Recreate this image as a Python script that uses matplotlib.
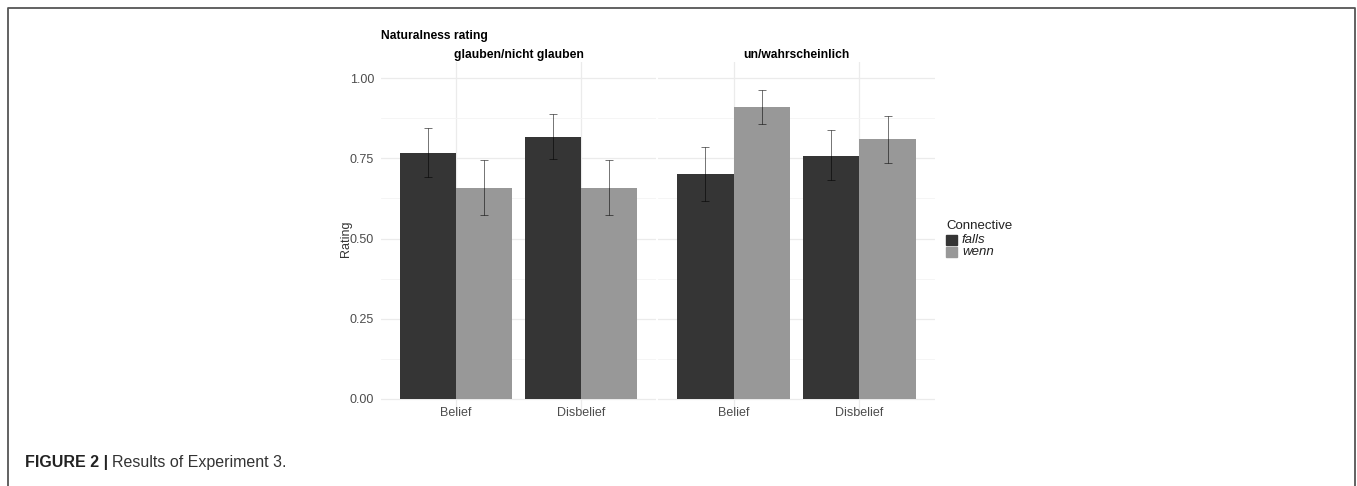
import matplotlib

matplotlib.use("Agg")
import matplotlib.pyplot as plt
import numpy as np

plt.rcParams["font.family"] = ["Liberation Sans", "DejaVu Sans"]

# values
PANELS = ["glauben/nicht glauben", "un/wahrscheinlich"]
CONDITIONS = ["Belief", "Disbelief"]
CONNECTIVES = ["falls", "wenn"]

falls_mean = [[0.767, 0.817], [0.700, 0.758]]
falls_lo = [[0.692, 0.747], [0.618, 0.681]]
falls_hi = [[0.843, 0.887], [0.784, 0.838]]
wenn_mean = [[0.658, 0.658], [0.910, 0.810]]
wenn_lo = [[0.572, 0.572], [0.857, 0.736]]
wenn_hi = [[0.745, 0.745], [0.962, 0.881]]

Y_TICKS = [0.00, 0.25, 0.50, 0.75, 1.00]

DARK = "#353535"
LIGHT = "#989898"
GRID = "#ebebeb"
TICK = "#4d4d4d"

W, H = 1357, 486
fig = plt.figure(figsize=(W / 100, H / 100), dpi=100)


def px(x0, y0, w, h):
    return [x0 / W, 1 - (y0 + h) / H, w / W, h / H]


axes = [fig.add_axes(px(381, 62, 275, 353)), fig.add_axes(px(658, 62, 277, 353))]
series = [(falls_mean, falls_lo, falls_hi, DARK, -0.225),
          (wenn_mean, wenn_lo, wenn_hi, LIGHT, 0.225)]

xs = np.arange(1, len(CONDITIONS) + 1)
for p, ax in enumerate(axes):
    for mean, lo, hi, col, off in series:
        m = np.array(mean[p])
        err = np.vstack([m - np.array(lo[p]), np.array(hi[p]) - m])
        ax.bar(xs + off, m, width=0.45, color=col, zorder=2)
        ax.errorbar(xs + off, m, yerr=err, fmt="none", ecolor=(0, 0, 0, 0.55),
                    elinewidth=0.7, capsize=3.2, capthick=0.7, zorder=3)
    ax.set_xlim(0.4, 2.6)
    ax.set_ylim(-0.05, 1.05)
    ax.set_xticks(xs)
    ax.set_xticklabels(CONDITIONS)
    ax.set_yticks(Y_TICKS)
    ax.set_yticks([0.125, 0.375, 0.625, 0.875], minor=True)
    ax.set_xticks([], minor=True)
    ax.grid(True, which="major", color=GRID, linewidth=0.9, zorder=0)
    ax.grid(True, which="minor", axis="y", color="#f4f4f4", linewidth=0.6, zorder=0)
    ax.set_axisbelow(True)
    for s in ax.spines.values():
        s.set_visible(False)
    ax.tick_params(which="both", length=0, labelsize=9, labelcolor=TICK, pad=5)
    ax.tick_params(axis="x", pad=-6)
    ax.set_title(PANELS[p], fontsize=8.7, fontweight="bold", pad=3)
    if p == 0:
        ax.set_yticklabels([f"{v:.2f}" for v in Y_TICKS])
        ax.set_ylabel("Rating", fontsize=9, color="#333333", labelpad=-2)
    else:
        ax.set_yticklabels([])

fig.text(381 / W, 1 - 35.5 / H, "Naturalness rating", fontsize=8.7, fontweight="bold",
         ha="left", va="center")

# legend
fig.text(946 / W, 1 - 226 / H, "Connective", fontsize=9.5, color="#222222", va="center")
for i, (name, col) in enumerate(zip(CONNECTIVES, [DARK, LIGHT])):
    y = 235 + i * 12
    fig.patches.append(plt.Rectangle((946 / W, 1 - (y + 10) / H), 11 / W, 10 / H,
                                     transform=fig.transFigure, color=col))
    fig.text(962 / W, 1 - (y + 5) / H, name, fontsize=9.5, style="italic",
             color="#222222", va="center")

# caption
cap = fig.text(25 / W, 1 - 462 / H, "FIGURE 2 |", fontsize=11.5, fontweight="bold",
               ha="left", va="center", color="#222222")
fig.canvas.draw()
bb = cap.get_window_extent()
fig.text((bb.x1 + 4) / W, 1 - 462 / H, "Results of Experiment 3.", fontsize=11.5,
         ha="left", va="center", color="#333333")

# page frame
frame_x = [8 / W, 8 / W, 1355 / W, 1355 / W]
frame_y = [0, 1 - 8.5 / H, 1 - 8.5 / H, 0]
fig.lines.append(plt.Line2D(frame_x, frame_y, transform=fig.transFigure,
                            color="#555555", linewidth=1.3))

fig.savefig("out.png", dpi=100)
